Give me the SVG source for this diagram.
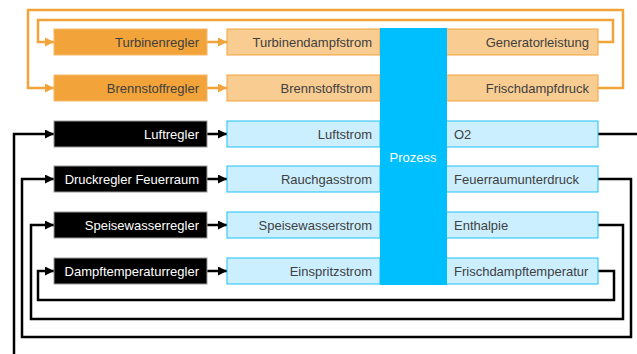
<svg xmlns="http://www.w3.org/2000/svg" width="637" height="354" viewBox="0 0 637 354">
<defs>
<marker id="ao" markerUnits="userSpaceOnUse" markerWidth="10" markerHeight="10" refX="9" refY="4.5" orient="auto"><path d="M0,0 L9,4.5 L0,9 z" fill="#F2A33A"/></marker>
<marker id="ab" markerUnits="userSpaceOnUse" markerWidth="10" markerHeight="10" refX="9" refY="4.5" orient="auto"><path d="M0,0 L9,4.5 L0,9 z" fill="#000"/></marker>
<style>
text{font-family:"Liberation Sans",Arial,sans-serif;font-size:13px;fill:#404040}
.ro{fill:#F2A33A;stroke:#F5B866;stroke-width:1}
.lo{fill:#F9CD92;stroke:#F2A33A;stroke-width:1}
.rb{fill:#000;stroke:#999;stroke-width:1}
.lb{fill:#CCEFFF;stroke:#1EC0F5;stroke-width:1}
.w{fill:#fff}
.r{text-anchor:end}
.co{fill:none;stroke:#F2A33A;stroke-width:2.5}
.cb{fill:none;stroke:#000;stroke-width:2.5}
</style>
</defs>
<g id="connectors">
<path class="co" d="M598,88 H623 V10 H28 V88 H54" marker-end="url(#ao)"/>
<path class="co" d="M598,42 H613 V20 H38 V42 H54" marker-end="url(#ao)"/>
<path class="co" d="M207,42 H227" marker-end="url(#ao)"/>
<path class="co" d="M207,88 H227" marker-end="url(#ao)"/>
<path class="cb" d="M598,134 H640"/>
<path class="cb" d="M14,360 V134 H54" marker-end="url(#ab)"/>
<path class="cb" d="M598,179 H631 V337 H22 V179 H54" marker-end="url(#ab)"/>
<path class="cb" d="M598,225 H623 V319 H31 V225 H54" marker-end="url(#ab)"/>
<path class="cb" d="M598,271 H614 V300 H38 V271 H54" marker-end="url(#ab)"/>
<path class="cb" d="M207,134 H227" marker-end="url(#ab)"/>
<path class="cb" d="M207,179 H227" marker-end="url(#ab)"/>
<path class="cb" d="M207,225 H227" marker-end="url(#ab)"/>
<path class="cb" d="M207,271 H227" marker-end="url(#ab)"/>
</g>
<g id="turbinenregler"><rect class="ro" x="54" y="29" width="153" height="26"/><text class="r" x="199" y="47">Turbinenregler</text></g>
<g id="brennstoffregler"><rect class="ro" x="54" y="75" width="153" height="26"/><text class="r" x="199" y="93">Brennstoffregler</text></g>
<g id="luftregler"><rect class="rb" x="54" y="121" width="153" height="26"/><text class="r w" x="199" y="139">Luftregler</text></g>
<g id="druckregler"><rect class="rb" x="54" y="166" width="153" height="26"/><text class="r w" x="199" y="184">Druckregler Feuerraum</text></g>
<g id="speisewasserregler"><rect class="rb" x="54" y="212" width="153" height="26"/><text class="r w" x="199" y="230">Speisewasserregler</text></g>
<g id="dampftemperaturregler"><rect class="rb" x="54" y="258" width="153" height="26"/><text class="r w" x="199" y="276">Dampftemperaturregler</text></g>
<g id="turbinendampfstrom"><rect class="lo" x="227" y="29" width="153" height="26"/><text class="r" x="372" y="47">Turbinendampfstrom</text></g>
<g id="brennstoffstrom"><rect class="lo" x="227" y="75" width="153" height="26"/><text class="r" x="372" y="93">Brennstoffstrom</text></g>
<g id="luftstrom"><rect class="lb" x="227" y="121" width="153" height="26"/><text class="r" x="372" y="139">Luftstrom</text></g>
<g id="rauchgasstrom"><rect class="lb" x="227" y="166" width="153" height="26"/><text class="r" x="372" y="184">Rauchgasstrom</text></g>
<g id="speisewasserstrom"><rect class="lb" x="227" y="212" width="153" height="26"/><text class="r" x="372" y="230">Speisewasserstrom</text></g>
<g id="einspritzstrom"><rect class="lb" x="227" y="258" width="153" height="26"/><text class="r" x="372" y="276">Einspritzstrom</text></g>
<g id="generatorleistung"><rect class="lo" x="446" y="29" width="152" height="26"/><text class="r" x="589" y="47">Generatorleistung</text></g>
<g id="frischdampfdruck"><rect class="lo" x="446" y="75" width="152" height="26"/><text class="r" x="589" y="93">Frischdampfdruck</text></g>
<g id="o2"><rect class="lb" x="446" y="121" width="152" height="26"/><text x="454" y="139">O2</text></g>
<g id="feuerraumunterdruck"><rect class="lb" x="446" y="166" width="152" height="26"/><text x="454" y="184">Feuerraumunterdruck</text></g>
<g id="enthalpie"><rect class="lb" x="446" y="212" width="152" height="26"/><text x="454" y="230">Enthalpie</text></g>
<g id="frischdampftemperatur"><rect class="lb" x="446" y="258" width="152" height="26"/><text x="454" y="276">Frischdampftemperatur</text></g>
<g id="prozess"><rect x="380" y="28" width="67" height="257" fill="#00BFFF"/><text class="w" x="413" y="162" text-anchor="middle">Prozess</text></g>
</svg>
